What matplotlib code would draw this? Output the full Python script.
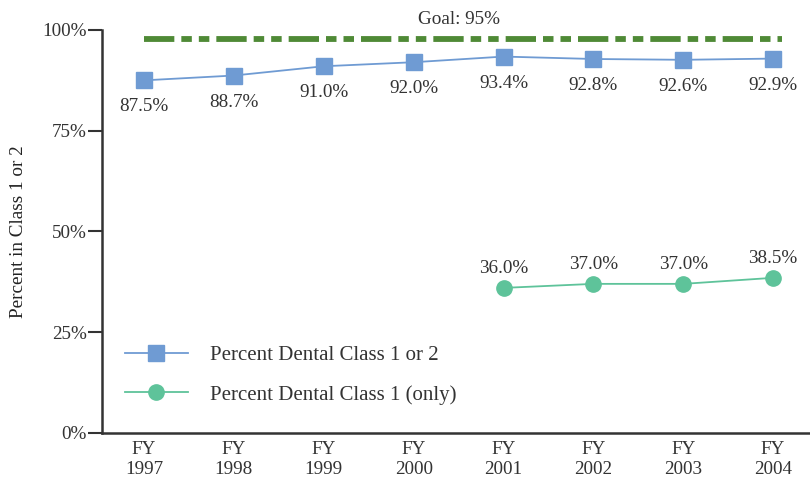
#!/usr/bin/env python3

"""Dental class readiness, FY1997-FY2004"""

import matplotlib.pyplot as plt

years = [1997, 1998, 1999, 2000, 2001, 2002, 2003, 2004]
year_labels = ["FY\n{}".format(y) for y in years]

class_1_or_2 = [87.5, 88.7, 91.0, 92.0, 93.4, 92.8, 92.6, 92.9]

class_1_years = [2001, 2002, 2003, 2004]
class_1_only = [36.0, 37.0, 37.0, 38.5]

# goal line sits a little above the 95% mark in the original drawing
goal_level = 97.8
goal_span = [1997, 2004.1]
goal_label = "Goal: 95%"

BLUE = "#6F9BD3"
GREEN = "#5EC39A"
GOAL_GREEN = "#4F8A36"
TEXT = "#333333"


def main():
    plt.rcParams["font.family"] = ["Liberation Serif", "DejaVu Serif"]
    plt.rcParams["font.size"] = 13.8

    fig = plt.figure(figsize=(8.1, 4.82), dpi=100)
    ax = fig.add_axes([0.126, 0.1017, 0.874, 0.8361])

    ax.plot(goal_span, [goal_level, goal_level], color=GOAL_GREEN, lw=4.2,
            dashes=(5.2, 1.2, 1.8, 1.2, 1.8, 1.2), solid_capstyle="butt",
            dash_capstyle="butt")
    ax.text(2000.5, goal_level + 2.6, goal_label, ha="center", va="bottom",
            color=TEXT)

    ax.plot(years, class_1_or_2, color=BLUE, lw=1.3, marker="s", ms=11,
            label="Percent Dental Class 1 or 2")
    ax.plot(class_1_years, class_1_only, color=GREEN, lw=1.3, marker="o", ms=11,
            label="Percent Dental Class 1 (only)")

    for x, y in zip(years, class_1_or_2):
        ax.annotate("{:.1f}%".format(y), (x, y), xytext=(0, -13),
                    textcoords="offset points", ha="center", va="top", color=TEXT)
    for x, y in zip(class_1_years, class_1_only):
        ax.annotate("{:.1f}%".format(y), (x, y), xytext=(0, 8),
                    textcoords="offset points", ha="center", va="bottom", color=TEXT)

    ax.set_xlim(1997 - 0.467, 2004 + 0.41)
    ax.set_ylim(0, 100)
    ax.set_xticks(years)
    ax.set_xticklabels(year_labels, color=TEXT)
    ax.set_yticks([0, 25, 50, 75, 100])
    ax.set_yticklabels(["0%", "25%", "50%", "75%", "100%"], color=TEXT)
    ax.tick_params(axis="x", length=0, pad=6)
    ax.tick_params(axis="y", length=10, width=1.5, color=TEXT, pad=1)
    ax.set_ylabel("Percent in Class 1 or 2", color="#222222", labelpad=11)

    for side in ("top", "right"):
        ax.spines[side].set_visible(False)
    for side in ("left", "bottom"):
        ax.spines[side].set_linewidth(1.8)
        ax.spines[side].set_color(TEXT)

    ax.legend(loc="center left", bbox_to_anchor=(0.0325, 0.144), frameon=False,
              borderpad=0, borderaxespad=0, handlelength=3.0, handletextpad=1.1,
              labelspacing=0.95, labelcolor=TEXT, fontsize=15)

    fig.savefig("out.png", dpi=100)


if __name__ == "__main__":
    main()
